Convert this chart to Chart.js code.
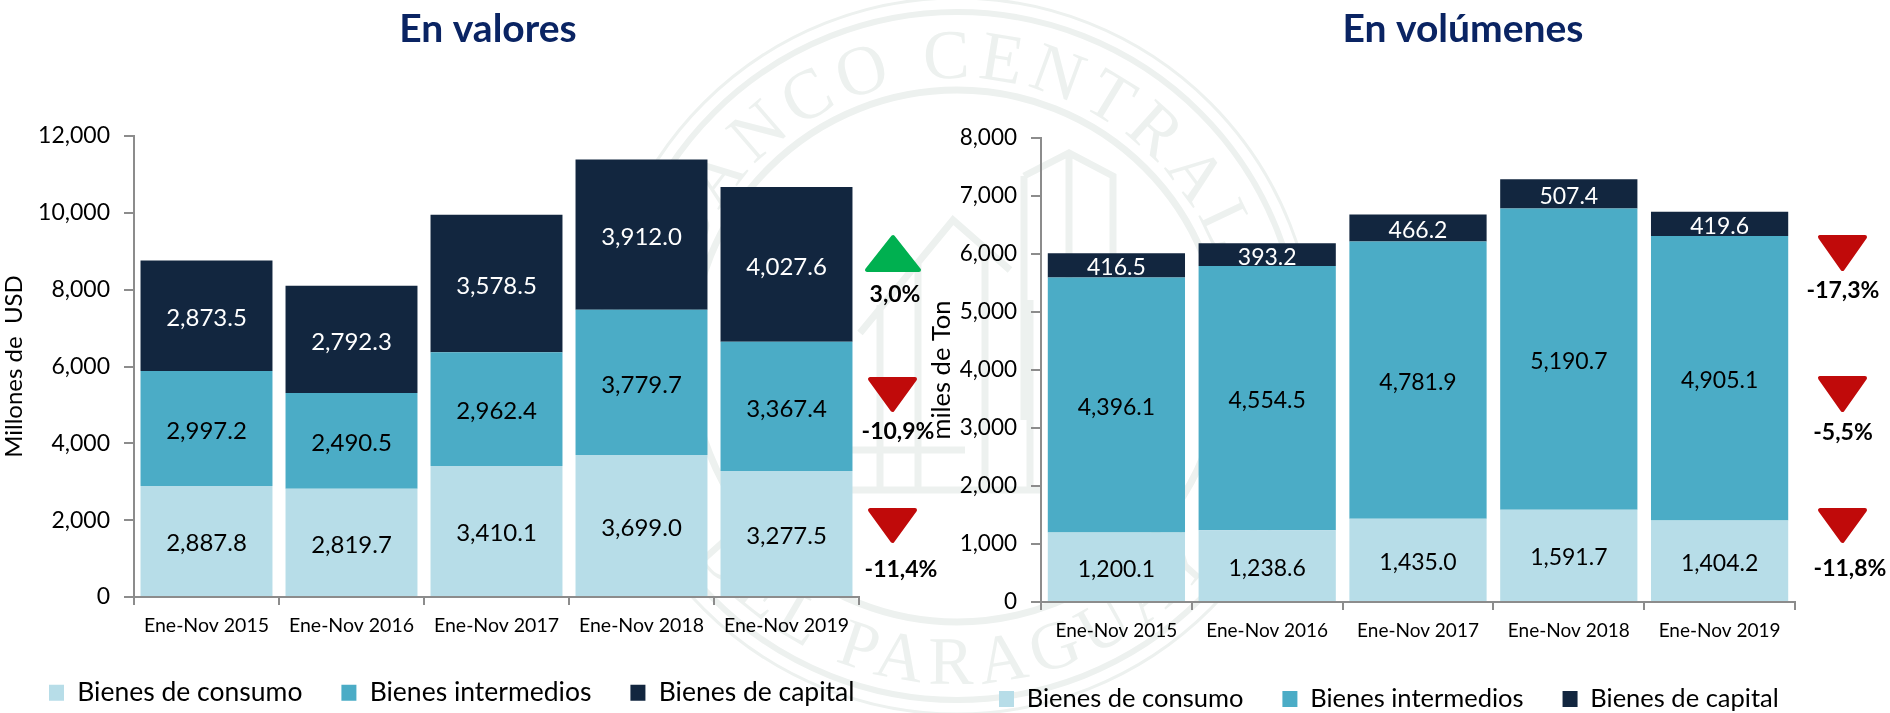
<!DOCTYPE html>
<html lang="es">
<head>
<meta charset="utf-8">
<title>Importaciones</title>
<script src="https://cdn.jsdelivr.net/npm/chart.js@4"></script>
<style>
html,body{margin:0;padding:0;background:#fff;width:1890px;height:713px;overflow:hidden}
canvas{position:absolute;top:0}
#seal{position:absolute;left:0;top:0}
</style>
</head>
<body>
<svg id="seal" width="1890" height="713" viewBox="0 0 1890 713" fill="none" stroke="#edf1ef">
  <defs>
    <path id="arcTop" d="M 679 356 A 278 278 0 0 1 1235 356"/>
    <path id="arcBottom" d="M 629 356 A 328 328 0 0 0 1285 356"/>
  </defs>
  <circle cx="957" cy="356" r="358" stroke-width="3"/>
  <circle cx="957" cy="356" r="344" stroke-width="6"/>
  <circle cx="957" cy="356" r="266" stroke-width="7"/>
  <g stroke-width="7">
    <path d="M1024 176 L1069 153 L1113 176 L1113 300 M1069 153 L1069 280 M1024 176 L1024 420"/>
    <path d="M860 333 L953 220 L1010 270 M880 305 L880 490 M918 260 L918 490 M985 245 L985 490 M1030 300 L1030 490"/>
    <path d="M850 490 L1040 490 M850 450 L965 450"/>
  </g>
  <text font-family="Liberation Serif" font-size="70" fill="#edf1ef" stroke="none" letter-spacing="7">
    <textPath href="#arcTop" startOffset="50%" text-anchor="middle">BANCO CENTRAL</textPath>
  </text>
  <text font-family="Liberation Serif" font-size="68" fill="#edf1ef" stroke="none" letter-spacing="8">
    <textPath href="#arcBottom" startOffset="50%" text-anchor="middle">DEL PARAGUAY</textPath>
  </text>
</svg>
<canvas id="left" width="945" height="713" style="left:0"></canvas>
<canvas id="right" width="965" height="713" style="left:925px"></canvas>
<script>
const categories = ['Ene-Nov 2015','Ene-Nov 2016','Ene-Nov 2017','Ene-Nov 2018','Ene-Nov 2019'];
const seriesNames = ['Bienes de consumo','Bienes intermedios','Bienes de capital'];

const valoresConsumo     = [2887.8, 2819.7, 3410.1, 3699.0, 3277.5];
const valoresIntermedios = [2997.2, 2490.5, 2962.4, 3779.7, 3367.4];
const valoresCapital     = [2873.5, 2792.3, 3578.5, 3912.0, 4027.6];

const volumenConsumo     = [1200.1, 1238.6, 1435.0, 1591.7, 1404.2];
const volumenIntermedios = [4396.1, 4554.5, 4781.9, 5190.7, 4905.1];
const volumenCapital     = [416.5, 393.2, 466.2, 507.4, 419.6];

const valoresVariacion = ['3,0%','-10,9%','-11,4%'];
const volumenVariacion = ['-17,3%','-5,5%','-11,8%'];

const seriesColors = ['#b7dde8','#4bacc6','#12263f'];
const labelColors = ['#000','#000','#fff'];
const axisColor = '#8c8c8c';
const FONT = 'Lato';

function makeChart(id, cfg){
  const fmt = v => v.toLocaleString('en-US',{minimumFractionDigits:1,maximumFractionDigits:1});
  const placer = {
    id:'placer',
    beforeDraw(chart){
      const t = chart.titleBlock, l = chart.legend;
      const w = t.right - t.left;
      t.left = cfg.titleX - w/2; t.right = cfg.titleX + w/2;
      const p = cfg.legend.padding;
      l.left = cfg.legend.x - p;
      l.right = chart.width;
      l.top = cfg.legend.cy - p - cfg.legend.font*0.6;
      l.bottom = chart.height;
    }
  };
  const labels = {
    id:'barLabels',
    afterDatasetsDraw(chart){
      const c = chart.ctx; c.save();
      c.textAlign='center'; c.textBaseline='middle';
      c.font = `${cfg.labelFont}px ${FONT}`;
      chart.data.datasets.forEach((ds,i)=>{
        c.fillStyle = labelColors[i];
        chart.getDatasetMeta(i).data.forEach((bar,j)=>{
          c.fillText(fmt(ds.data[j]), bar.x, (bar.y+bar.base)/2 + 2.5);
        });
      });
      c.restore();
    }
  };
  const arrows = {
    id:'arrows',
    afterDraw(chart){
      const c = chart.ctx; c.save();
      cfg.arrows.forEach((a,i)=>{
        const up = !cfg.variation[i].startsWith('-');
        const col = up ? '#00b050' : '#c00a0a';
        const ox = cfg.canvasLeft;
        c.beginPath();
        if(up){ c.moveTo(a.x0+2-ox,a.y1-2); c.lineTo(a.x1-2-ox,a.y1-2); c.lineTo((a.x0+a.x1)/2-ox,a.y0+2); }
        else  { c.moveTo(a.x0+2-ox,a.y0+2); c.lineTo(a.x1-2-ox,a.y0+2); c.lineTo((a.x0+a.x1)/2-ox,a.y1-2); }
        c.closePath();
        c.fillStyle=col; c.strokeStyle=col; c.lineWidth=4; c.lineJoin='round';
        c.fill(); c.stroke();
        c.fillStyle='#000'; c.font=`bold 23px ${FONT}`; c.textAlign='center'; c.textBaseline='middle';
        c.fillText(cfg.variation[i], a.tx-ox, a.ty);
      });
      c.restore();
    }
  };
  return new Chart(document.getElementById(id),{
    type:'bar',
    data:{labels:categories,datasets:cfg.series.map((d,i)=>({
      label:seriesNames[i],data:d,backgroundColor:seriesColors[i],borderWidth:0,
      barPercentage:0.91,categoryPercentage:1
    }))},
    plugins:[placer,labels,arrows],
    options:{
      responsive:false,animation:false,
      layout:{padding:0},
      plugins:{
        title:{display:true,text:cfg.title,color:'#0a2463',
          font:{family:FONT,size:39,weight:'bold',lineHeight:1.2},
          padding:{top:cfg.titleTop,bottom:cfg.plotTop-cfg.titleTop-46.8}},
        legend:{display:true,position:'bottom',align:'start',
          labels:{boxWidth:15,boxHeight:16,padding:cfg.legend.padding,color:'#000',
            font:{family:FONT,size:cfg.legend.font}}},
        tooltip:{enabled:false}
      },
      scales:{
        x:{stacked:true,
          afterFit(s){ s.height = 713 - cfg.plotBottom - s.chart.legend.height; },
          grid:{drawOnChartArea:false,color:axisColor,lineWidth:2,tickLength:8,offset:true},
          border:{color:axisColor,width:2},
          ticks:{color:'#000',maxRotation:0,minRotation:0,autoSkip:false,padding:cfg.xPad,
            font:{family:FONT,size:cfg.xFont}}},
        y:{stacked:true,min:0,max:cfg.max,
          afterFit(s){ s.width = cfg.plotLeft; },
          title:{display:true,text:cfg.axisTitle,color:'#000',padding:cfg.axisPad,
            font:{family:FONT,size:cfg.axisFont,lineHeight:1.2}},
          grid:{drawOnChartArea:false,color:axisColor,lineWidth:2,tickLength:10},
          border:{color:axisColor,width:2},
          ticks:{stepSize:cfg.step,color:'#000',padding:14,
            font:{family:FONT,size:cfg.yFont},
            callback:v=>v.toLocaleString('en-US')}},
        gutter:{type:'linear',axis:'y',position:'right',display:true,min:0,max:1,
          afterFit(s){ s.width = cfg.padRight; },
          grid:{display:false},border:{display:false},ticks:{display:false},title:{display:false}}
      }
    }
  });
}

makeChart('left',{
  series:[valoresConsumo,valoresIntermedios,valoresCapital],
  title:'En valores',titleX:488,titleTop:6,plotTop:136,plotBottom:597,plotLeft:134,padRight:86,
  canvasLeft:0,max:12000,step:2000,axisTitle:'Millones de  USD',axisPad:0,axisFont:24,
  labelFont:24,xFont:19.5,yFont:23,xPad:9,
  legend:{x:49,cy:695.5,padding:39,font:26.5},
  variation:valoresVariacion,
  arrows:[{x0:865,x1:921,y0:235,y1:272,tx:895,ty:295},
          {x0:868,x1:917,y0:377,y1:412,tx:898,ty:432},
          {x0:868,x1:917,y0:508,y1:543,tx:901,ty:570}]
});
makeChart('right',{
  series:[volumenConsumo,volumenIntermedios,volumenCapital],
  title:'En volúmenes',titleX:1463-925,titleTop:6,plotTop:138,plotBottom:602,plotLeft:116,padRight:95,
  canvasLeft:925,max:8000,step:1000,axisTitle:'miles de Ton',axisPad:1,axisFont:25.5,
  labelFont:23,xFont:19,yFont:22.5,xPad:9,
  legend:{x:999-925,cy:701.5,padding:39,font:25.5},
  variation:volumenVariacion,
  arrows:[{x0:1818,x1:1867,y0:235,y1:271,tx:1843,ty:291},
          {x0:1818,x1:1867,y0:376,y1:412,tx:1843,ty:433},
          {x0:1818,x1:1867,y0:508,y1:543,tx:1850,ty:569}]
});
</script>
</body>
</html>
